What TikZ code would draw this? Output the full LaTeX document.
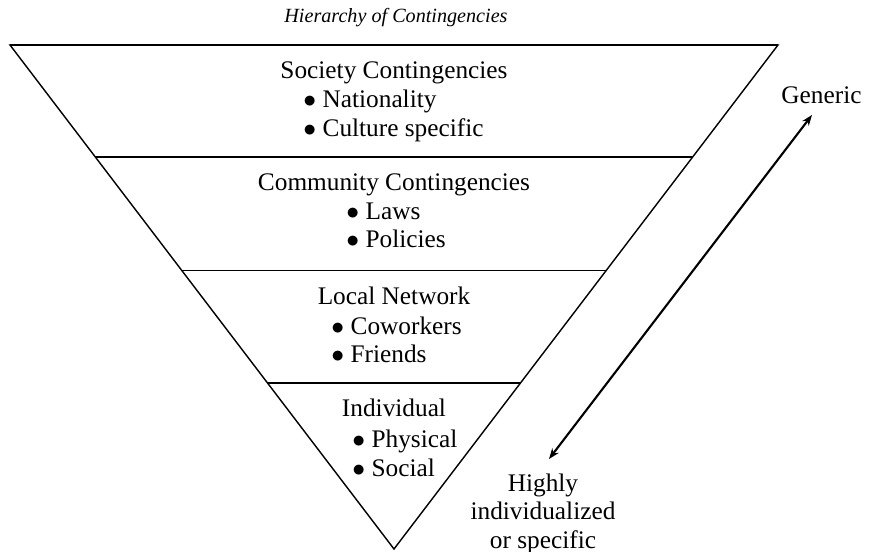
\documentclass[tikz,border=0pt]{standalone}
\usepackage{fontspec}
\setmainfont{Liberation Serif}
\usetikzlibrary{calc,arrows.meta}

\begin{document}
\begin{tikzpicture}[x=0.15mm,y=-0.15mm,
  lbl/.style={font=\fontsize{10.8}{12.3}\selectfont, inner sep=0pt, anchor=base},
  item/.style={lbl, anchor=base west}]
\useasboundingbox (0,0) rectangle (870,552);

% the inverted triangle
\coordinate (tl) at (10,45);
\coordinate (tr) at (778,45);
\coordinate (bot) at (394,549);
\draw[line width=0.6pt] (tl) -- (tr) -- (bot) -- cycle;
\draw[line width=0.9pt] (tl) -- (tr);
\foreach \t/\n in {0.222/a,0.448/b,0.671/c}
  \draw[line width=0.6pt] ($(tl)!\t!(bot)$) coordinate (l\n) -- ($(tr)!\t!(bot)$) coordinate (r\n);

\node[lbl, font=\fontsize{8.6}{10}\selectfont\itshape] (title) at (396,22) {Hierarchy of Contingencies};

% levels
\node[lbl] (soc) at (394,78) {Society Contingencies};
\node[item] (soc1) at (303,107) {$\bullet$ Nationality};
\node[item] (soc2) at (303,136) {$\bullet$ Culture specific};

\node[lbl] (com) at (394,190) {Community Contingencies};
\node[item] (com1) at (346,219) {$\bullet$ Laws};
\node[item] (com2) at (346,247) {$\bullet$ Policies};

\node[lbl] (loc) at (394,304) {Local Network};
\node[item] (loc1) at (331,334) {$\bullet$ Coworkers};
\node[item] (loc2) at (331,362) {$\bullet$ Friends};

\node[lbl] (ind) at (394,416) {Individual};
\node[item] (ind1) at (352,447) {$\bullet$ Physical};
\node[item] (ind2) at (352,476) {$\bullet$ Social};

% scale arrow
\node[item] (gen) at (781,103) {Generic};
\node[lbl, anchor=north, align=center] (spec) at (543,473) {Highly\\individualized\\or specific};
\coordinate (up) at (812,115);
\coordinate (down) at (549,459);
\draw[line width=0.9pt, {Stealth[length=1.6mm,width=1.2mm]}-{Stealth[length=1.6mm,width=1.2mm]}] (down) -- (up);
\end{tikzpicture}
\end{document}
